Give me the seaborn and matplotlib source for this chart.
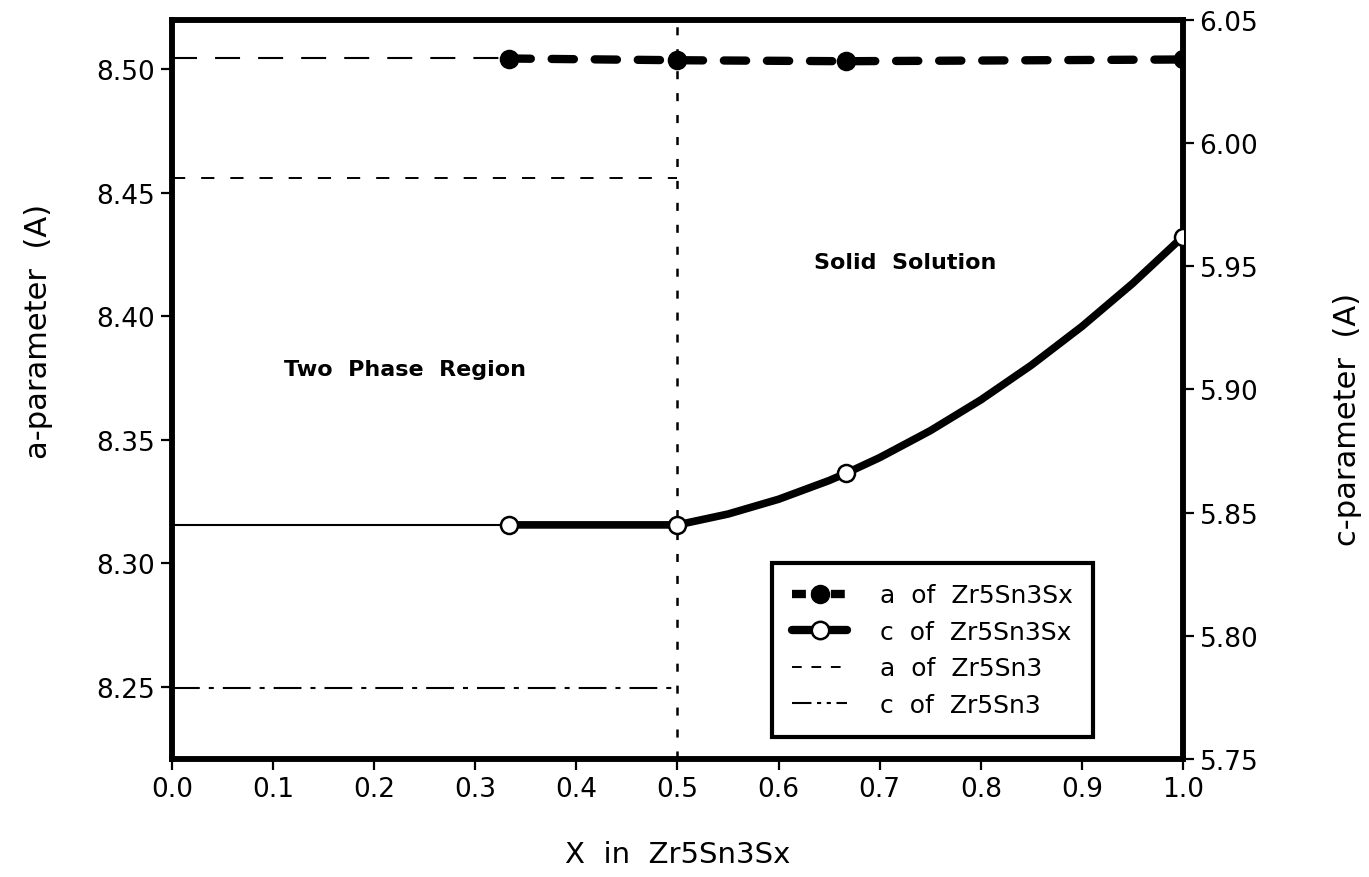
import seaborn as sns
import matplotlib.pyplot as plt
import numpy as np
import pandas as pd
from matplotlib.lines import Line2D

# measured lattice parameters of Zr5Sn3Sx
x_pts = [0.333, 0.5, 0.667, 1.0]
a_pts = [8.5043, 8.5036, 8.5032, 8.5039]
c_pts = [5.845, 5.845, 5.866, 5.962]

# smooth c curve
c_curve_x = [0.333, 0.5, 0.55, 0.6, 0.65, 0.667, 0.7, 0.75, 0.8, 0.85, 0.9, 0.95, 1.0]
c_curve_y = [5.845, 5.845, 5.8494, 5.8554, 5.863, 5.866, 5.8723, 5.8832, 5.8957,
             5.9098, 5.9255, 5.9429, 5.962]

# two phase region: constant values and Zr5Sn3 reference lines
ext_x = [0.0, 0.333]
a_ext = [8.5045, 8.5045]
c_ext = [5.845, 5.845]
ref_x = [0.0, 0.5]
a_zr5sn3 = [8.456, 8.456]
c_zr5sn3 = [5.779, 5.779]

x_ticks = [0.0, 0.1, 0.2, 0.3, 0.4, 0.5, 0.6, 0.7, 0.8, 0.9, 1.0]
a_ticks = [8.25, 8.30, 8.35, 8.40, 8.45, 8.50]
c_ticks = [5.75, 5.80, 5.85, 5.90, 5.95, 6.00, 6.05]

sns.set_style("ticks")
plt.rcParams['font.family'] = ['DejaVu Sans']
plt.rcParams['lines.scale_dashes'] = False
plt.rcParams['text.color'] = 'black'
plt.rcParams['axes.labelcolor'] = 'black'

fig = plt.figure(figsize=(13.69, 8.78), dpi=100)
ax = fig.add_axes([0.1256, 0.1344, 0.7385, 0.8420])
ax2 = ax.twinx()

# a of Zr5Sn3Sx (left axis)
sns.lineplot(x=x_pts, y=a_pts, ax=ax, color="black", lw=6,
             linestyle=(0, (16, 15)), dash_capstyle="round", zorder=3)
sns.scatterplot(x=x_pts, y=a_pts, ax=ax, color="black", edgecolor="black",
                s=170, zorder=5)
sns.lineplot(x=ext_x, y=a_ext, ax=ax, color="black", lw=1.5,
             linestyle=(0, (18, 13)), zorder=2)
# a of Zr5Sn3
sns.lineplot(x=ref_x, y=a_zr5sn3, ax=ax, color="black", lw=1.4,
             linestyle=(0, (9.5, 11.5)), zorder=2)
ax.axvline(0.5, color="black", lw=1.8, linestyle=(0, (5.8, 10)), zorder=1)

# c of Zr5Sn3Sx (right axis)
sns.lineplot(x=c_curve_x, y=c_curve_y, ax=ax2, color="black", lw=5.5,
             solid_capstyle="round", solid_joinstyle="round", zorder=3)
sns.scatterplot(x=x_pts, y=c_pts, ax=ax2, color="white", edgecolor="black",
                linewidth=1.8, s=150, zorder=5)
sns.lineplot(x=ext_x, y=c_ext, ax=ax2, color="black", lw=1.5, zorder=2)
# c of Zr5Sn3
sns.lineplot(x=ref_x, y=c_zr5sn3, ax=ax2, color="black", lw=1.5,
             linestyle=(0, (20, 6.5, 3.6, 6.5)), zorder=2)

ax.set_xlim(0.0, 1.0)
ax.set_ylim(8.2207, 8.520)
ax2.set_ylim(5.75, 6.05)
ax.set_xticks(x_ticks)
ax.set_xticklabels([f"{v:.1f}" for v in x_ticks])
ax.set_yticks(a_ticks)
ax.set_yticklabels([f"{v:.2f}" for v in a_ticks])
ax2.set_yticks(c_ticks)
ax2.set_yticklabels([f"{v:.2f}" for v in c_ticks])

for a in (ax, ax2):
    for sp in a.spines.values():
        sp.set_linewidth(4)
        sp.set_color("black")
        sp.set_visible(True)
    a.tick_params(axis="both", direction="out", length=8, width=1.6,
                  labelsize=19, pad=4, colors="black")

ax.set_xlabel("X  in  Zr5Sn3Sx", fontsize=21, color="black")
ax.set_ylabel("a-parameter  (A)", fontsize=22, color="black")
ax2.set_ylabel("c-parameter  (A)", fontsize=22, rotation=90, color="black")
ax.xaxis.set_label_coords(0.5, -0.11)
ax.yaxis.set_label_coords(-0.118, 0.58)
ax2.yaxis.set_label_coords(1.148, 0.46)

ax.text(0.2305, 8.3787, "Two  Phase  Region", fontsize=16, fontweight="bold",
        ha="center", va="center", color="black")
ax.text(0.725, 8.422, "Solid  Solution", fontsize=16, fontweight="bold",
        ha="center", va="center", color="black")

handles = [
    Line2D([], [], color="black", lw=6, linestyle=(0, (10, 4)),
           marker="o", markersize=13, markerfacecolor="black"),
    Line2D([], [], color="black", lw=6, marker="o", markersize=12.5,
           markerfacecolor="white", markeredgecolor="black", markeredgewidth=1.8),
    Line2D([], [], color="black", lw=1.4, linestyle=(0, (7, 7))),
    Line2D([], [], color="black", lw=1.5, linestyle=(0, (14, 4, 3, 4, 3, 4))),
]
labels = ["a  of  Zr5Sn3Sx", "c  of  Zr5Sn3Sx", "a  of  Zr5Sn3", "c  of  Zr5Sn3"]
leg = ax2.legend(handles, labels, loc="lower left", bbox_to_anchor=(0.594, 0.030),
                 fontsize=18, frameon=True, fancybox=False, framealpha=1,
                 edgecolor="black", handlelength=2.2, handletextpad=1.3,
                 labelspacing=0.5, borderpad=0.8, borderaxespad=0, numpoints=1)
leg.get_frame().set_linewidth(3)
for t in leg.get_texts():
    t.set_color("black")

fig.savefig("out.png", dpi=100)
